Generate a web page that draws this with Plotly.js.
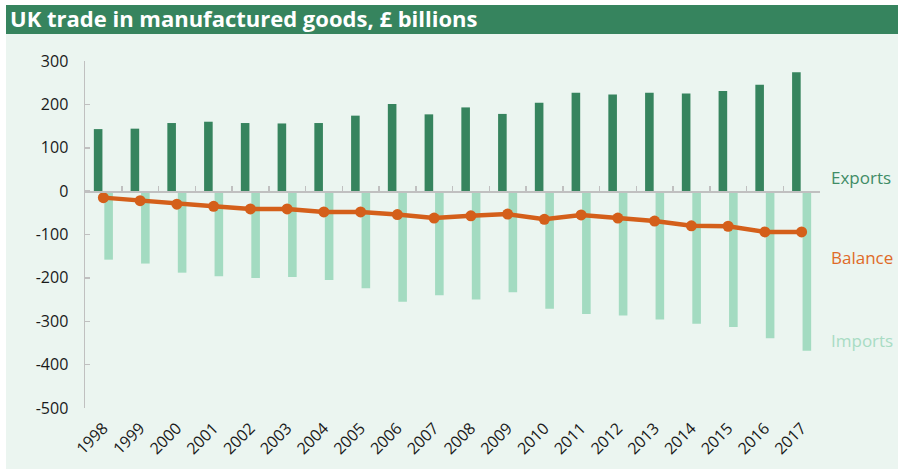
<!DOCTYPE html>
<html>
<head>
<meta charset="utf-8">
<script src="https://cdn.plot.ly/plotly-3.0.1.min.js"></script>
<style>
  html, body { margin: 0; padding: 0; background: #ffffff; }
  #chart { position: absolute; left: 0; top: 0; width: 898px; height: 474px; }
</style>
</head>
<body>
<div id="chart"></div>
<script>
// ---- data ----
const years = ['1998','1999','2000','2001','2002','2003','2004','2005','2006','2007',
               '2008','2009','2010','2011','2012','2013','2014','2015','2016','2017'];
const exportsVals = [143, 144, 157, 160, 157, 156, 157, 174, 201, 177,
                     193, 178, 204, 227, 223, 227, 225, 231, 245, 274];
const importsVals = [-158, -167, -188, -196, -200, -198, -205, -224, -255, -240,
                     -250, -233, -271, -283, -287, -296, -306, -313, -339, -368];
const balanceVals = [-15, -22, -30, -35, -41, -41, -48, -48, -54, -62,
                     -57, -53, -65, -55, -62, -69, -80, -81, -94, -94];
const yTickVals = [300, 200, 100, 0, -100, -200, -300, -400, -500];
const yTickText = ['300', '200', '100', '0', '-100', '-200', '-300', '-400', '-500'];
const seriesNames = ['Exports', 'Imports', 'Balance'];
const titleText = 'UK trade in manufactured goods, £ billions';

// ---- styles ----
const cExports = '#36845e';
const cImports = '#a3dbc1';
const cBalance = '#d45f1a';
const cBg = '#ebf5f0';
const cAxis = '#c0c0c0';
const font = 'Open Sans, Noto Sans, sans-serif';

const traces = [
  { type: 'bar', name: seriesNames[0], x: years, y: exportsVals,
    marker: { color: cExports }, hoverinfo: 'x+y' },
  { type: 'bar', name: seriesNames[1], x: years, y: importsVals,
    marker: { color: cImports }, hoverinfo: 'x+y' },
  { type: 'scatter', mode: 'lines+markers', name: seriesNames[2], x: years, y: balanceVals,
    line: { color: cBalance, width: 4.5 }, marker: { color: cBalance, size: 11 } }
];

const layout = {
  width: 898, height: 474,
  margin: { l: 85, r: 78, t: 61, b: 66 },
  paper_bgcolor: '#ffffff', plot_bgcolor: 'rgba(0,0,0,0)',
  showlegend: false,
  barmode: 'group', bargap: 0.43, bargroupgap: 0.18,
  font: { family: font, color: '#1a1a1a', size: 16 },
  title: { text: '<b>' + titleText + '</b>', xref: 'container', yref: 'container',
           x: 10 / 898, xanchor: 'left', y: 1 - 19.5 / 474, yanchor: 'middle',
           font: { family: font, size: 22, color: '#ffffff' } },
  xaxis: { type: 'category', categoryorder: 'array', categoryarray: years,
           range: [-0.5, years.length - 0.5],
           anchor: 'free', position: 0.625,
           showline: true, linecolor: cAxis, linewidth: 1.5,
           ticks: 'inside', ticklen: 5, tickwidth: 1.5, tickcolor: cAxis, tickson: 'boundaries',
           tickangle: -45, ticklabelstandoff: 220,
           tickfont: { family: font, size: 16, color: '#1a1a1a' },
           showgrid: false, zeroline: false, automargin: false, fixedrange: true },
  yaxis: { range: [-500, 300], tickvals: yTickVals, ticktext: yTickText,
           showline: true, linecolor: cAxis, linewidth: 1.5,
           ticks: 'inside', ticklen: 5, tickwidth: 1.5, tickcolor: cAxis,
           ticklabelstandoff: 12,
           tickfont: { family: font, size: 16, color: '#1a1a1a' },
           showgrid: false, zeroline: false, automargin: false, fixedrange: true },
  shapes: [
    { type: 'rect', xref: 'paper', yref: 'paper', xsizemode: 'pixel', ysizemode: 'pixel',
      xanchor: 0, yanchor: 1, x0: -79, x1: 813, y0: -408, y1: 56,
      fillcolor: cBg, line: { width: 0 }, layer: 'below' },
    { type: 'rect', xref: 'paper', yref: 'paper', xsizemode: 'pixel', ysizemode: 'pixel',
      xanchor: 0, yanchor: 1, x0: -79, x1: 813, y0: 27, y1: 56,
      fillcolor: cExports, line: { width: 0 }, layer: 'below' }
  ],
  annotations: [
    { text: seriesNames[0], xref: 'paper', x: 1, xanchor: 'left', xshift: 9,
      yref: 'y', y: 32, yanchor: 'middle', showarrow: false,
      font: { family: font, size: 17, color: '#3f8c66' } },
    { text: seriesNames[2], xref: 'paper', x: 1, xanchor: 'left', xshift: 9,
      yref: 'y', y: -152, yanchor: 'middle', showarrow: false,
      font: { family: font, size: 17, color: '#df6a27' } },
    { text: seriesNames[1], xref: 'paper', x: 1, xanchor: 'left', xshift: 9,
      yref: 'y', y: -345, yanchor: 'middle', showarrow: false,
      font: { family: font, size: 17, color: '#a8dcc4' } }
  ]
};

Plotly.newPlot('chart', traces, layout, { displayModeBar: false, staticPlot: true });
</script>
</body>
</html>
